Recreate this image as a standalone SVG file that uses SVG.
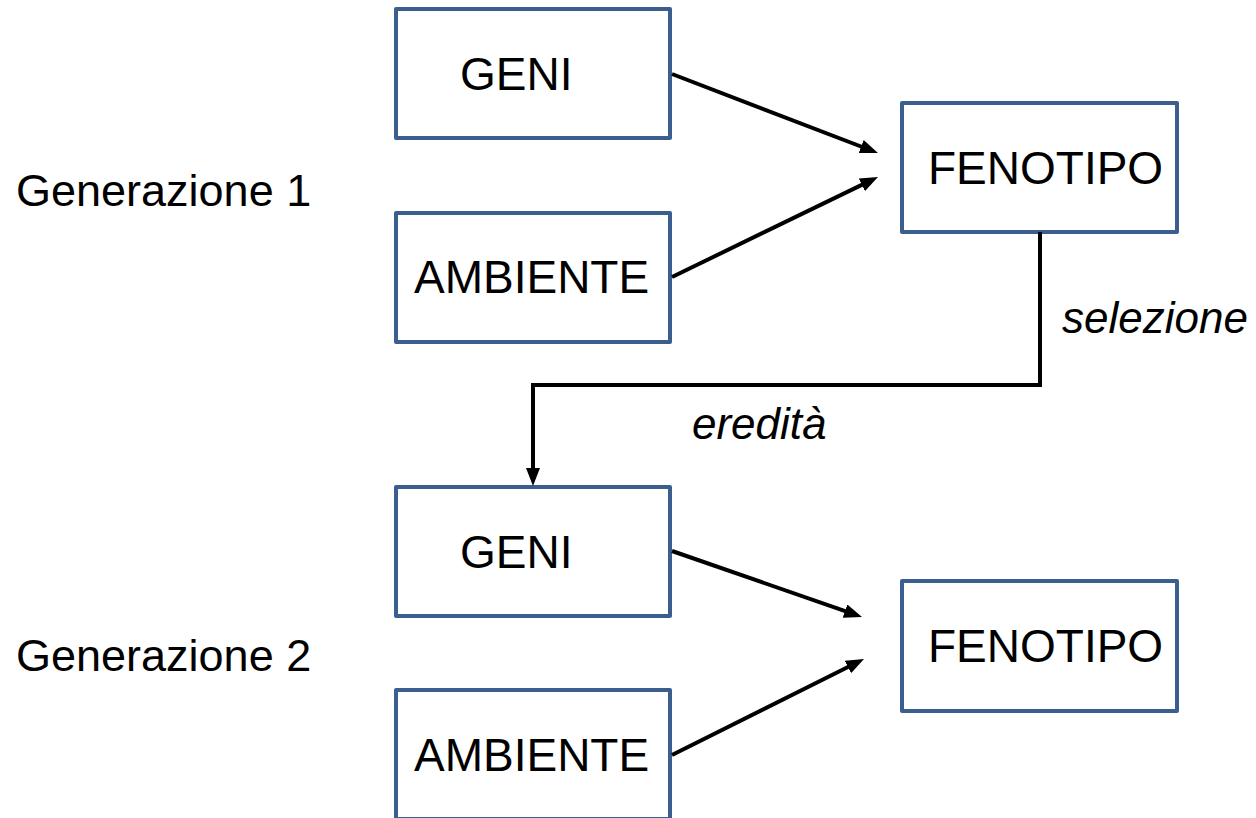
<svg xmlns="http://www.w3.org/2000/svg" width="1256" height="818" viewBox="0 0 1256 818">
  <style>
    .box { fill: #ffffff; stroke: #3A5F8E; stroke-width: 4; stroke-linejoin: round; }
    .lbl { font-family: "Liberation Sans", Arial, sans-serif; font-size: 46px; fill: #000000; }
    .gen { font-family: "Liberation Sans", Arial, sans-serif; font-size: 45px; fill: #000000; }
    .edge { font-family: "Liberation Sans", Arial, sans-serif; font-size: 44px; font-style: italic; fill: #000000; }
    .conn { fill: none; stroke: #000000; stroke-width: 4; stroke-linejoin: miter; marker-end: url(#head); }
  </style>
  <defs>
    <marker id="head" markerWidth="5" markerHeight="4" refX="1" refY="1.75" orient="auto" markerUnits="strokeWidth">
      <path d="M0,0 L4.5,1.75 L0,3.5 Z" fill="#000000"/>
    </marker>
  </defs>

  <rect width="1256" height="818" fill="#ffffff"/>

  <!-- row labels -->
  <text class="gen" x="16" y="206">Generazione 1</text>
  <text class="gen" x="16" y="671">Generazione 2</text>

  <!-- generation 1 -->
  <g id="geni1">
    <rect class="box" x="396" y="9" width="274" height="129"/>
    <text class="lbl" x="460" y="90">GENI</text>
  </g>
  <g id="ambiente1">
    <rect class="box" x="396" y="213" width="274" height="129"/>
    <text class="lbl" x="414" y="293">AMBIENTE</text>
  </g>
  <g id="fenotipo1">
    <rect class="box" x="902" y="103" width="275" height="129"/>
    <text class="lbl" x="928" y="184">FENOTIPO</text>
  </g>

  <!-- generation 2 -->
  <g id="geni2">
    <rect class="box" x="396" y="487" width="274" height="129"/>
    <text class="lbl" x="460" y="568">GENI</text>
  </g>
  <g id="ambiente2">
    <rect class="box" x="396" y="690" width="274" height="129"/>
    <text class="lbl" x="414" y="771">AMBIENTE</text>
  </g>
  <g id="fenotipo2">
    <rect class="box" x="902" y="581" width="275" height="130"/>
    <text class="lbl" x="928" y="662">FENOTIPO</text>
  </g>

  <!-- connectors -->
  <g id="connectors">
    <line class="conn" x1="672" y1="74" x2="864.9" y2="148"/>
    <line class="conn" x1="672" y1="277" x2="865.4" y2="183.1"/>
    <line class="conn" x1="672" y1="551" x2="848.8" y2="612.4"/>
    <line class="conn" x1="672" y1="755" x2="851.5" y2="665.3"/>
    <polyline class="conn" points="1040,232 1040,385 533,385 533,472"/>
  </g>

  <!-- connector labels -->
  <text class="edge" x="1062" y="333">selezione</text>
  <text class="edge" x="692" y="439">eredità</text>
</svg>
